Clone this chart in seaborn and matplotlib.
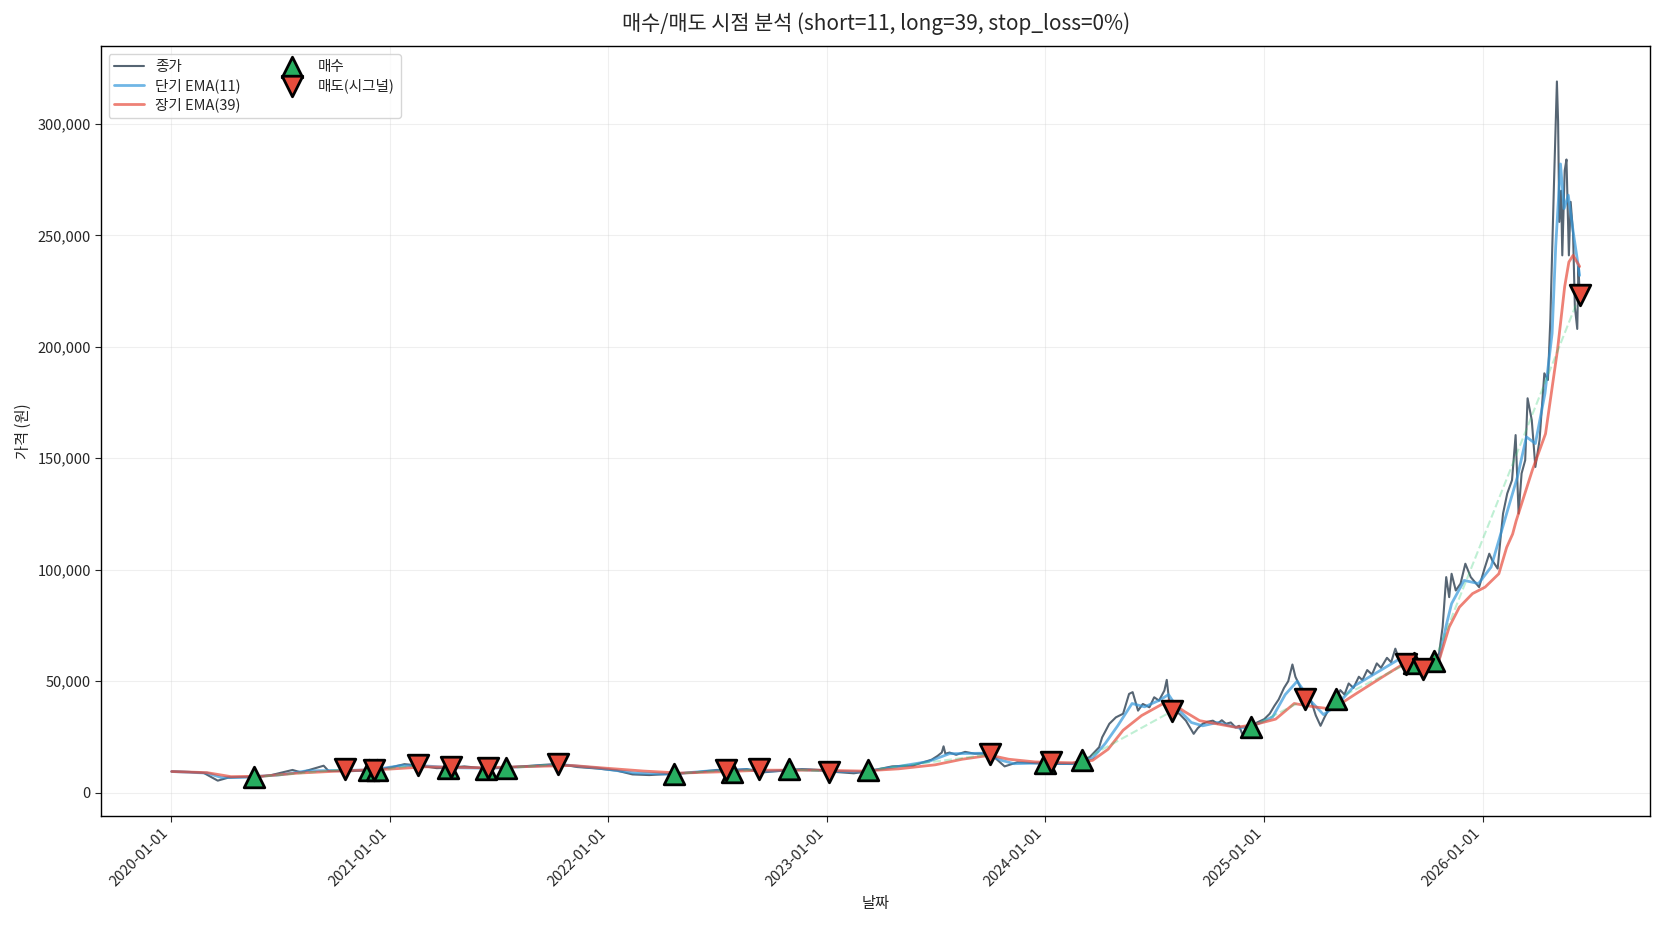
import pandas as pd
import matplotlib.pyplot as plt
import matplotlib.dates as mdates
import matplotlib.ticker as mticker
import seaborn as sns

# Close price
close_dates = [
    "2020-01-02", "2020-02-01", "2020-02-25", "2020-03-19", "2020-04-05", "2020-05-01", "2020-05-20",
    "2020-06-15", "2020-07-22", "2020-08-05", "2020-09-12", "2020-09-20", "2020-10-22", "2020-11-25",
    "2020-12-10", "2021-01-05", "2021-01-25", "2021-02-18", "2021-03-20", "2021-04-10", "2021-05-05",
    "2021-06-10", "2021-07-10", "2021-08-10", "2021-09-15", "2021-10-10", "2021-11-10", "2021-12-15",
    "2022-01-15", "2022-02-10", "2022-03-10", "2022-04-20", "2022-05-25", "2022-07-01", "2022-07-28",
    "2022-08-20", "2022-09-15", "2022-10-20", "2022-11-20", "2022-12-20", "2023-01-10", "2023-02-15",
    "2023-03-15", "2023-04-20", "2023-05-25", "2023-06-25", "2023-07-05", "2023-07-12", "2023-07-15",
    "2023-07-18", "2023-07-25", "2023-08-05", "2023-08-20", "2023-09-05", "2023-09-25", "2023-10-05",
    "2023-10-25", "2023-11-15", "2023-12-15", "2024-01-10", "2024-02-15", "2024-03-15", "2024-03-31",
    "2024-04-05", "2024-04-17", "2024-04-28", "2024-05-10", "2024-05-20", "2024-05-26", "2024-06-04",
    "2024-06-12", "2024-06-23", "2024-07-01", "2024-07-09", "2024-07-18", "2024-07-22", "2024-07-26",
    "2024-08-01", "2024-08-12", "2024-08-23", "2024-09-05", "2024-09-12", "2024-09-20", "2024-09-28",
    "2024-10-07", "2024-10-15", "2024-10-22", "2024-10-29", "2024-11-06", "2024-11-14", "2024-11-20",
    "2024-11-25", "2024-12-02", "2024-12-10", "2024-12-20", "2025-01-01", "2025-01-10", "2025-01-18",
    "2025-01-25", "2025-02-03", "2025-02-10", "2025-02-17", "2025-02-22", "2025-03-01", "2025-03-10",
    "2025-03-18", "2025-03-28", "2025-04-05", "2025-04-12", "2025-04-20", "2025-04-30", "2025-05-08",
    "2025-05-15", "2025-05-22", "2025-05-30", "2025-06-08", "2025-06-14", "2025-06-22", "2025-06-30",
    "2025-07-08", "2025-07-15", "2025-07-25", "2025-08-01", "2025-08-08", "2025-08-14", "2025-08-25",
    "2025-09-03", "2025-09-10", "2025-09-18", "2025-09-25", "2025-10-05", "2025-10-12", "2025-10-20",
    "2025-10-26", "2025-11-01", "2025-11-06", "2025-11-10", "2025-11-17", "2025-11-25", "2025-12-03",
    "2025-12-12", "2025-12-26", "2026-01-04", "2026-01-12", "2026-01-17", "2026-01-26", "2026-01-31",
    "2026-02-04", "2026-02-11", "2026-02-19", "2026-02-25", "2026-03-02", "2026-03-07", "2026-03-13",
    "2026-03-17", "2026-03-24", "2026-03-30", "2026-04-06", "2026-04-14", "2026-04-20", "2026-04-24",
    "2026-04-30", "2026-05-05", "2026-05-07", "2026-05-09", "2026-05-12", "2026-05-14", "2026-05-18",
    "2026-05-21", "2026-05-25", "2026-05-28", "2026-06-01", "2026-06-04", "2026-06-08", "2026-06-10",
    "2026-06-12",
]
close_prices = [
    9500, 9300, 8800, 5400, 6700, 7000, 6900,
    7800, 10200, 9100, 12100, 9800, 9600, 10000,
    10300, 11500, 12800, 12200, 11000, 11200, 11800,
    10800, 11200, 11800, 12500, 12900, 11500, 10800,
    9900, 8200, 7900, 8500, 9100, 10200, 10100,
    10600, 9100, 9900, 10600, 10200, 9400, 8700,
    9800, 11800, 12200, 14800, 16500, 18000, 20800,
    17500, 18000, 17000, 18300, 17500, 17600, 16600,
    11800, 13600, 13200, 12900, 12900, 15900, 20400,
    24800, 30900, 33800, 35400, 44300, 45100, 36800,
    39800, 38300, 42800, 41300, 45800, 50600, 41300,
    36800, 35400, 32300, 26400, 29000, 30900, 31800,
    32300, 31000, 32500, 30900, 31500, 29300, 30000,
    26400, 28000, 29300, 31500, 33000, 35400, 39000,
    41800, 47000, 50000, 57500, 52000, 48000, 41800,
    43000, 34700, 30000, 34000, 38000, 41800, 46000,
    44000, 49000, 47000, 52000, 50500, 55000, 53000,
    58000, 56000, 60500, 58500, 64600, 60000, 57500,
    54000, 58000, 56500, 55600, 59000, 60000, 62300,
    74300, 96700, 87700, 98200, 90700, 93800, 102700,
    96700, 92200, 100500, 107200, 104200, 100500, 114700,
    125200, 134200, 140200, 160400, 125200, 143200, 149100,
    176900, 167100, 146100, 158100, 188100, 185100, 212000,
    272000, 319000, 301000, 256000, 270000, 241000, 279000,
    284000, 241000, 265000, 251000, 218000, 208000, 236000,
    224000,
]

# Short EMA(11)
short_dates = [
    "2020-01-02", "2020-03-01", "2020-03-25", "2020-05-01", "2020-07-01", "2020-08-15", "2020-10-15",
    "2020-12-01", "2021-01-20", "2021-03-01", "2021-04-15", "2021-06-15", "2021-08-15", "2021-10-15",
    "2021-12-15", "2022-02-15", "2022-04-15", "2022-06-15", "2022-08-20", "2022-09-20", "2022-11-20",
    "2023-01-20", "2023-03-01", "2023-05-01", "2023-06-20", "2023-07-25", "2023-09-20", "2023-10-20",
    "2023-11-10", "2023-12-20", "2024-02-15", "2024-03-20", "2024-04-10", "2024-05-01", "2024-05-25",
    "2024-06-15", "2024-07-10", "2024-07-25", "2024-08-10", "2024-09-01", "2024-09-20", "2024-10-15",
    "2024-11-20", "2024-12-10", "2025-01-15", "2025-02-05", "2025-02-25", "2025-03-20", "2025-04-10",
    "2025-05-01", "2025-06-01", "2025-07-15", "2025-08-15", "2025-09-20", "2025-10-20", "2025-11-01",
    "2025-11-10", "2025-12-01", "2025-12-25", "2026-01-15", "2026-02-10", "2026-02-28", "2026-03-15",
    "2026-03-30", "2026-04-15", "2026-04-27", "2026-05-03", "2026-05-11", "2026-05-17", "2026-05-24",
    "2026-06-01", "2026-06-12",
]
short_ema = [
    9500, 8800, 6800, 6900, 8000, 9800, 10000,
    10200, 12200, 12000, 11200, 11000, 11700, 12600,
    11000, 8800, 8300, 9700, 10400, 9600, 10300,
    9600, 9300, 11800, 14000, 17500, 17700, 14500,
    13000, 13300, 13000, 15500, 22000, 30000, 40000,
    38500, 41500, 44000, 37500, 31500, 30000, 31500,
    29000, 29500, 34000, 44000, 50000, 41000, 35000,
    39000, 48000, 55000, 60000, 56500, 59500, 75000,
    84800, 95200, 93800, 101200, 125200, 141600, 159600,
    156600, 179000, 206000, 245000, 282000, 262000, 268000,
    252000, 232000,
]

# Long EMA(39)
long_dates = [
    "2020-01-02", "2020-03-01", "2020-04-10", "2020-06-01", "2020-08-01", "2020-10-15", "2021-01-01",
    "2021-03-01", "2021-06-01", "2021-09-01", "2021-11-01", "2022-01-01", "2022-03-01", "2022-05-01",
    "2022-07-01", "2022-09-15", "2022-12-15", "2023-03-01", "2023-05-01", "2023-07-01", "2023-08-15",
    "2023-10-01", "2023-11-01", "2023-12-15", "2024-02-15", "2024-03-20", "2024-04-15", "2024-05-10",
    "2024-06-10", "2024-07-25", "2024-08-20", "2024-09-15", "2024-11-15", "2024-12-15", "2025-01-20",
    "2025-02-20", "2025-03-25", "2025-04-25", "2025-06-01", "2025-07-15", "2025-08-20", "2025-09-25",
    "2025-10-20", "2025-11-06", "2025-11-23", "2025-12-15", "2026-01-05", "2026-01-28", "2026-02-10",
    "2026-02-20", "2026-02-26", "2026-03-25", "2026-04-16", "2026-05-06", "2026-05-18", "2026-05-25",
    "2026-06-01", "2026-06-12",
]
long_ema = [
    9500, 9000, 7200, 7400, 8800, 9800, 10600,
    11600, 11200, 11800, 12200, 10900, 9700, 8800,
    9300, 10100, 10100, 9700, 10700, 12500, 15000,
    16800, 15000, 13800, 13400, 14500, 19500, 28000,
    34600, 41300, 36500, 32300, 29300, 30500, 33000,
    40000, 38500, 37500, 44000, 51500, 57500, 56000,
    59300, 74300, 83200, 89300, 92200, 98200, 110000,
    116000, 122000, 144700, 161000, 198600, 227000, 238000,
    241000, 236000,
]

# Trade signals
buy_dates = [
    "2020-05-18", "2020-11-26", "2020-12-10", "2021-04-08", "2021-06-10", "2021-07-14", "2022-04-20",
    "2022-07-27", "2022-10-30", "2023-03-10", "2023-12-31", "2024-03-03", "2024-12-09", "2025-04-30",
    "2025-09-09", "2025-10-12",
]
buy_prices = [
    6900, 10000, 10000, 11000, 10500, 11000, 8500,
    9500, 10500, 10000, 13500, 14500, 29300, 41800,
    58000, 59000,
]
sell_dates = [
    "2020-10-18", "2020-12-05", "2021-02-17", "2021-04-13", "2021-06-13", "2021-10-08", "2022-07-16",
    "2022-09-09", "2023-01-04", "2023-10-01", "2024-01-10", "2024-07-31", "2025-03-10", "2025-08-25",
    "2025-09-24", "2026-06-12",
]
sell_prices = [
    10500, 10000, 12400, 11400, 11000, 12800, 10000,
    10500, 9500, 17200, 13800, 36600, 41800, 57500,
    55600, 223000,
]

close_df = pd.DataFrame({"date": pd.to_datetime(close_dates), "price": close_prices})
short_df = pd.DataFrame({"date": pd.to_datetime(short_dates), "price": short_ema})
long_df = pd.DataFrame({"date": pd.to_datetime(long_dates), "price": long_ema})
buy_df = pd.DataFrame({"date": pd.to_datetime(buy_dates), "price": buy_prices})
sell_df = pd.DataFrame({"date": pd.to_datetime(sell_dates), "price": sell_prices})

sns.set_style("white")
plt.rcParams["font.family"] = ["Noto Sans CJK KR", "DejaVu Sans"]
plt.rcParams["axes.unicode_minus"] = False

fig, ax = plt.subplots(figsize=(16.6, 9.3), dpi=100)

sns.lineplot(data=close_df, x="date", y="price", ax=ax, color="#2c3e50", alpha=0.8, linewidth=1.5, label="종가")
sns.lineplot(data=short_df, x="date", y="price", ax=ax, color="#3498db", alpha=0.7, linewidth=2, label="단기 EMA(11)")
sns.lineplot(data=long_df, x="date", y="price", ax=ax, color="#e74c3c", alpha=0.7, linewidth=2, label="장기 EMA(39)")

# dashed lines for each trade (buy -> sell)
for b, s in zip(buy_df.itertuples(), sell_df.itertuples()):
    ax.plot([b.date, s.date], [b.price, s.price], linestyle="--", color="#2ecc71", alpha=0.3, linewidth=1.5)

sns.scatterplot(data=buy_df, x="date", y="price", ax=ax, marker="^", s=220, color="#27ae60",
                edgecolor="black", linewidth=2, zorder=5, label="매수")
sns.scatterplot(data=sell_df, x="date", y="price", ax=ax, marker="v", s=220, color="#e74c3c",
                edgecolor="black", linewidth=2, zorder=5, label="매도(시그널)")

ax.set_title("매수/매도 시점 분석 (short=11, long=39, stop_loss=0%)", fontsize=15, pad=12)
ax.set_xlabel("날짜", fontsize=11)
ax.set_ylabel("가격 (원)", fontsize=11)
ax.yaxis.set_major_formatter(mticker.FuncFormatter(lambda v, p: f"{v:,.0f}"))
ax.xaxis.set_major_locator(mdates.YearLocator())
ax.xaxis.set_major_formatter(mdates.DateFormatter("%Y-%m-%d"))
plt.setp(ax.get_xticklabels(), rotation=45, ha="right")
ax.tick_params(axis="both", labelsize=10.5, length=4, left=True, bottom=True)
ax.grid(True, alpha=0.3)
for sp in ax.spines.values():
    sp.set_color("black")
    sp.set_linewidth(1)

ax.legend(loc="upper left", ncol=2, fontsize=10.5, labelspacing=0.3, columnspacing=2.5)

plt.subplots_adjust(left=0.061, right=0.994, top=0.950, bottom=0.123)
plt.savefig("out.png", dpi=100)
